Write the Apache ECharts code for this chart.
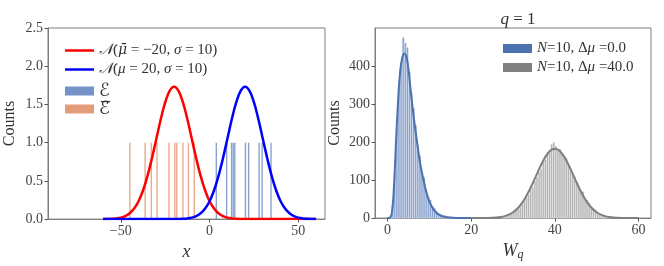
<!DOCTYPE html>
<html><head><meta charset="utf-8">
<script src="https://cdn.jsdelivr.net/npm/echarts@6/dist/echarts.min.js"></script>
<style>html,body{margin:0;padding:0;background:#fff}#c{width:664px;height:266px}</style>
</head><body><div id="c"></div>
<script>
// ---- Left panel data ----
const gaussX = [-60,-57.5,-55,-52.5,-50,-47.5,-45,-42.5,-40,-37.5,-35,-32.5,-30,-27.5,-25,-22.5,-20,-17.5,-15,-12.5,-10,-7.5,-5,-2.5,0,2.5,5,7.5,10,12.5,15,17.5,20,22.5,25,27.5,30,32.5,35,37.5,40,42.5,45,47.5,50,52.5,55,57.5,60];
const redCurve = [0.0006,0.0015,0.0038,0.0088,0.019,0.039,0.076,0.138,0.234,0.374,0.562,0.792,1.049,1.306,1.527,1.677,1.73,1.677,1.527,1.306,1.049,0.792,0.562,0.374,0.234,0.138,0.076,0.039,0.019,0.0088,0.0038,0.0015,0.0006,0.0002,0.0001,0,0,0,0,0,0,0,0,0,0,0,0,0,0];
const blueCurve = [0,0,0,0,0,0,0,0,0,0,0,0,0,0,0.0001,0.0002,0.0006,0.0015,0.0038,0.0088,0.019,0.039,0.076,0.138,0.234,0.374,0.562,0.792,1.049,1.306,1.527,1.677,1.73,1.677,1.527,1.306,1.049,0.792,0.562,0.374,0.234,0.138,0.076,0.039,0.019,0.0088,0.0038,0.0015,0.0006];
const eSamples = [3.8,9.6,12.4,13.3,14.2,20.2,22.0,27.9,29.6,34.6];
const eBarSamples = [-44.9,-36.3,-32.8,-29.6,-22.9,-19.6,-18.5,-15.0,-11.9,-8.6];
const sampleCounts = [1,1,1,1,1,1,1,1,1,1];
const leftYTicks = [0,0.5,1.0,1.5,2.0,2.5];
const leftXTicks = [-50,0,50];

// ---- Right panel data ----
const binWidth = 0.5;
const blueBinLeft = [0.5,1.0,1.5,2.0,2.5,3.0,3.5,4.0,4.5,5.0,5.5,6.0,6.5,7.0,7.5,8.0,8.5,9.0,9.5,10.0,10.5,11.0,11.5,12.0,12.5,13.0,13.5,14.0,14.5,15.0,15.5];
const blueHist = [3,35,120,240,345,405,476,462,450,385,330,290,245,190,165,120,108,75,55,48,32,26,18,12,9,6,4,3,2,1,1];
const grayBinLeft = [27.0,27.5,28.0,28.5,29.0,29.5,30.0,30.5,31.0,31.5,32.0,32.5,33.0,33.5,34.0,34.5,35.0,35.5,36.0,36.5,37.0,37.5,38.0,38.5,39.0,39.5,40.0,40.5,41.0,41.5,42.0,42.5,43.0,43.5,44.0,44.5,45.0,45.5,46.0,46.5,47.0,47.5,48.0,48.5,49.0,49.5,50.0,50.5,51.0,51.5,52.0,52.5,53.0];
const grayHist = [3,4,5,7,10,12,16,20,26,30,38,45,55,62,75,82,98,108,122,130,148,155,168,172,195,200,190,178,182,170,160,158,140,132,118,110,96,85,72,70,55,48,40,32,26,22,16,12,9,7,5,3,2];
const blueKdeX = [0,0.5,1,1.5,2,2.5,3,3.5,4,4.5,5,5.5,6,6.5,7,7.5,8,8.5,9,9.5,10,10.5,11,11.5,12,12.5,13,13.5,14,14.5,15,15.5,16,16.5,17,17.5,18,18.5,19,19.5,20];
const blueKde = [0,1,12,75,195,305,385,422,433,425,392,340,290,245,205,165,132,105,80,60,44,32,23,16,11,8,5.5,4,3,2,1.5,1,0.7,0.5,0.3,0.2,0.1,0.1,0.05,0,0];
const grayKdeX = [20,21,22,23,24,25,26,27,28,29,30,31,32,33,34,35,36,37,38,39,40,41,42,43,44,45,46,47,48,49,50,51,52,53,54,55,56,57,58,59,60];
const grayKde = [0,0,0.05,0.1,0.3,0.7,1.4,2.8,5.2,9.2,15.5,24.8,37.7,54.6,75.2,98.7,123.3,146.6,165.8,178.5,183,178.5,165.8,146.6,123.3,98.7,75.2,54.6,37.7,24.8,15.5,9.2,5.2,2.8,1.4,0.7,0.3,0.1,0.05,0,0];
const rightYTicks = [0,100,200,300,400];
const rightXTicks = [0,20,40,60];

const zip = (a,b) => a.map((v,i)=>[v,b[i]]);
const SERIF = 'Liberation Serif';
const FRAME = '#7f7f7f';

function fmtNum(v, d){ const s = d!=null ? Number(v).toFixed(d) : String(v); return s.replace('-', '\u2212'); }

function axisCommon(extra){
  return Object.assign({
    axisLine:{show:true, onZero:false, lineStyle:{color:FRAME, width:1}},
    splitLine:{show:false},
    nameTextStyle:{fontFamily:SERIF, fontSize:16, color:'#333'}
  }, extra);
}
function ticks(vals){ return {show:true, inside:false, length:3.5, lineStyle:{color:'#555'}, customValues:vals}; }
function labels(vals, d){ return {fontFamily:SERIF, fontSize:14, color:'#444', margin:5, customValues:vals, formatter:v=>fmtNum(v,d)}; }

const chart = echarts.init(document.getElementById('c'), null, {renderer:'canvas'});

function sampleBars(samples, color, name){
  return {
    type:'custom', name, xAxisIndex:0, yAxisIndex:0, z:1,
    itemStyle:{color},
    data: zip(samples, sampleCounts),
    renderItem(params, api){
      const x = api.value(0), y = api.value(1);
      const p0 = api.coord([x-0.4, 0]);
      const p1 = api.coord([x+0.4, y]);
      return {type:'rect', shape:{x:p0[0], y:p1[1], width:Math.max(1.3,p1[0]-p0[0]), height:p0[1]-p1[1]}, style:{fill:color, opacity:0.85}};
    }
  };
}
function histBars(lefts, counts, color, name, legendColor){
  return {
    type:'custom', name, xAxisIndex:1, yAxisIndex:1, z:1,
    itemStyle:{color:legendColor},
    data: lefts.map((l,i)=>[l, l+binWidth, counts[i]]),
    renderItem(params, api){
      const p0 = api.coord([api.value(0), 0]);
      const p1 = api.coord([api.value(1), api.value(2)]);
      return {type:'rect', shape:{x:p0[0], y:p1[1], width:p1[0]-p0[0], height:p0[1]-p1[1]}, style:{fill:color, stroke:'#fff', lineWidth:0.4}};
    }
  };
}

const rich = {
  t:{fontFamily:SERIF, fontSize:15, color:'#333', fontWeight:'normal'},
  i:{fontFamily:SERIF, fontSize:15, fontStyle:'italic', color:'#333', fontWeight:'normal'},
  m:{fontFamily:'DejaVu Serif', fontSize:14, fontStyle:'italic', color:'#333', fontWeight:'normal'},
  c:{fontFamily:'DejaVu Sans', fontSize:15, fontStyle:'italic', color:'#333', fontWeight:'normal'},
  e:{fontFamily:'DejaVu Sans', fontSize:18, fontStyle:'italic', color:'#333', fontWeight:'normal'},
  tt:{fontFamily:SERIF, fontSize:17, color:'#333', fontWeight:'normal'},
  ti:{fontFamily:SERIF, fontSize:17, fontStyle:'italic', color:'#333', fontWeight:'normal'}
};
const leftLabels = {
  nbar:'{c|\u{1D4A9}}{t|(}{m|\u03BC\u0304}{t| = \u221220, }{i|\u03C3}{t| = 10)}',
  n:'{c|\u{1D4A9}}{t|(}{i|\u03BC}{t| = 20, }{i|\u03C3}{t| = 10)}',
  E:'{e|\u2130}',
  Ebar:'{e|\u2130\u0305}'
};
const rightLabels = {
  h0:'{i|N}{t|=10, \u0394}{i|\u03BC}{t| =0.0}',
  h40:'{i|N}{t|=10, \u0394}{i|\u03BC}{t| =40.0}'
};

chart.setOption({
  animation:false,
  backgroundColor:'#fff',
  title:{text:'{ti|q}{tt| = 1}', left:513, top:6, textAlign:'center', textStyle:{fontWeight:'normal', rich}},
  grid:[
    {left:48, top:28, width:277, height:192, show:true, borderColor:FRAME, borderWidth:1, containLabel:false},
    {left:375, top:28, width:276, height:192, show:true, borderColor:FRAME, borderWidth:1, containLabel:false}
  ],
  xAxis:[
    axisCommon({type:'value', gridIndex:0, min:-91, max:65, name:'x', nameLocation:'middle', nameGap:22,
      nameTextStyle:{fontFamily:SERIF, fontSize:18, fontStyle:'italic', color:'#333'},
      axisTick:ticks(leftXTicks), axisLabel:labels(leftXTicks)}),
    axisCommon({type:'value', gridIndex:1, min:-3, max:63, name:'{a|W}{b|q}', nameLocation:'middle', nameGap:22,
      nameTextStyle:{rich:{a:{fontFamily:SERIF, fontSize:18, fontStyle:'italic', color:'#333'}, b:{fontFamily:SERIF, fontSize:12, fontStyle:'italic', color:'#333', verticalAlign:'bottom', padding:[8,0,0,0]}}},
      axisTick:ticks(rightXTicks), axisLabel:labels(rightXTicks)})
  ],
  yAxis:[
    axisCommon({type:'value', gridIndex:0, min:0, max:2.5, interval:0.5, name:'Counts', nameLocation:'middle', nameGap:30,
      axisTick:ticks(leftYTicks), axisLabel:labels(leftYTicks,1)}),
    axisCommon({type:'value', gridIndex:1, min:0, max:501, name:'Counts', nameLocation:'middle', nameGap:32,
      axisTick:ticks(rightYTicks), axisLabel:labels(rightYTicks)})
  ],
  legend:[
    {orient:'vertical', left:60, top:38, itemWidth:29, itemHeight:2.5, itemGap:4, icon:'rect',
      data:['nbar','n'], formatter:n=>leftLabels[n], textStyle:{rich}},
    {orient:'vertical', left:60, top:77, itemWidth:29, itemHeight:9, itemGap:0, icon:'rect',
      data:['E','Ebar'], formatter:n=>leftLabels[n], textStyle:{rich}},
    {orient:'vertical', left:498, top:36, itemWidth:29, itemHeight:9, itemGap:4, icon:'rect',
      data:['h0','h40'], formatter:n=>rightLabels[n], textStyle:{rich}}
  ],
  series:[
    sampleBars(eBarSamples, '#e49d78', 'Ebar'),
    sampleBars(eSamples, '#7593c6', 'E'),
    {type:'line', name:'nbar', xAxisIndex:0, yAxisIndex:0, data:zip(gaussX, redCurve), smooth:0.4, symbol:'none', z:3,
      itemStyle:{color:'#ff0000'}, lineStyle:{color:'#ff0000', width:2.5}},
    {type:'line', name:'n', xAxisIndex:0, yAxisIndex:0, data:zip(gaussX, blueCurve), smooth:0.4, symbol:'none', z:3,
      itemStyle:{color:'#0000ff'}, lineStyle:{color:'#0000ff', width:2.5}},
    histBars(blueBinLeft, blueHist, '#86a0cd', 'h0', '#4c72b0'),
    histBars(grayBinLeft, grayHist, '#b3b3b3', 'h40', '#808080'),
    {type:'line', name:'kde0', xAxisIndex:1, yAxisIndex:1, data:zip(blueKdeX, blueKde), smooth:0.4, symbol:'none', z:3,
      lineStyle:{color:'#4c72b0', width:2}},
    {type:'line', name:'kde40', xAxisIndex:1, yAxisIndex:1, data:zip(grayKdeX, grayKde), smooth:0.4, symbol:'none', z:3,
      lineStyle:{color:'#7f7f7f', width:2}}
  ]
});
</script></body></html>
